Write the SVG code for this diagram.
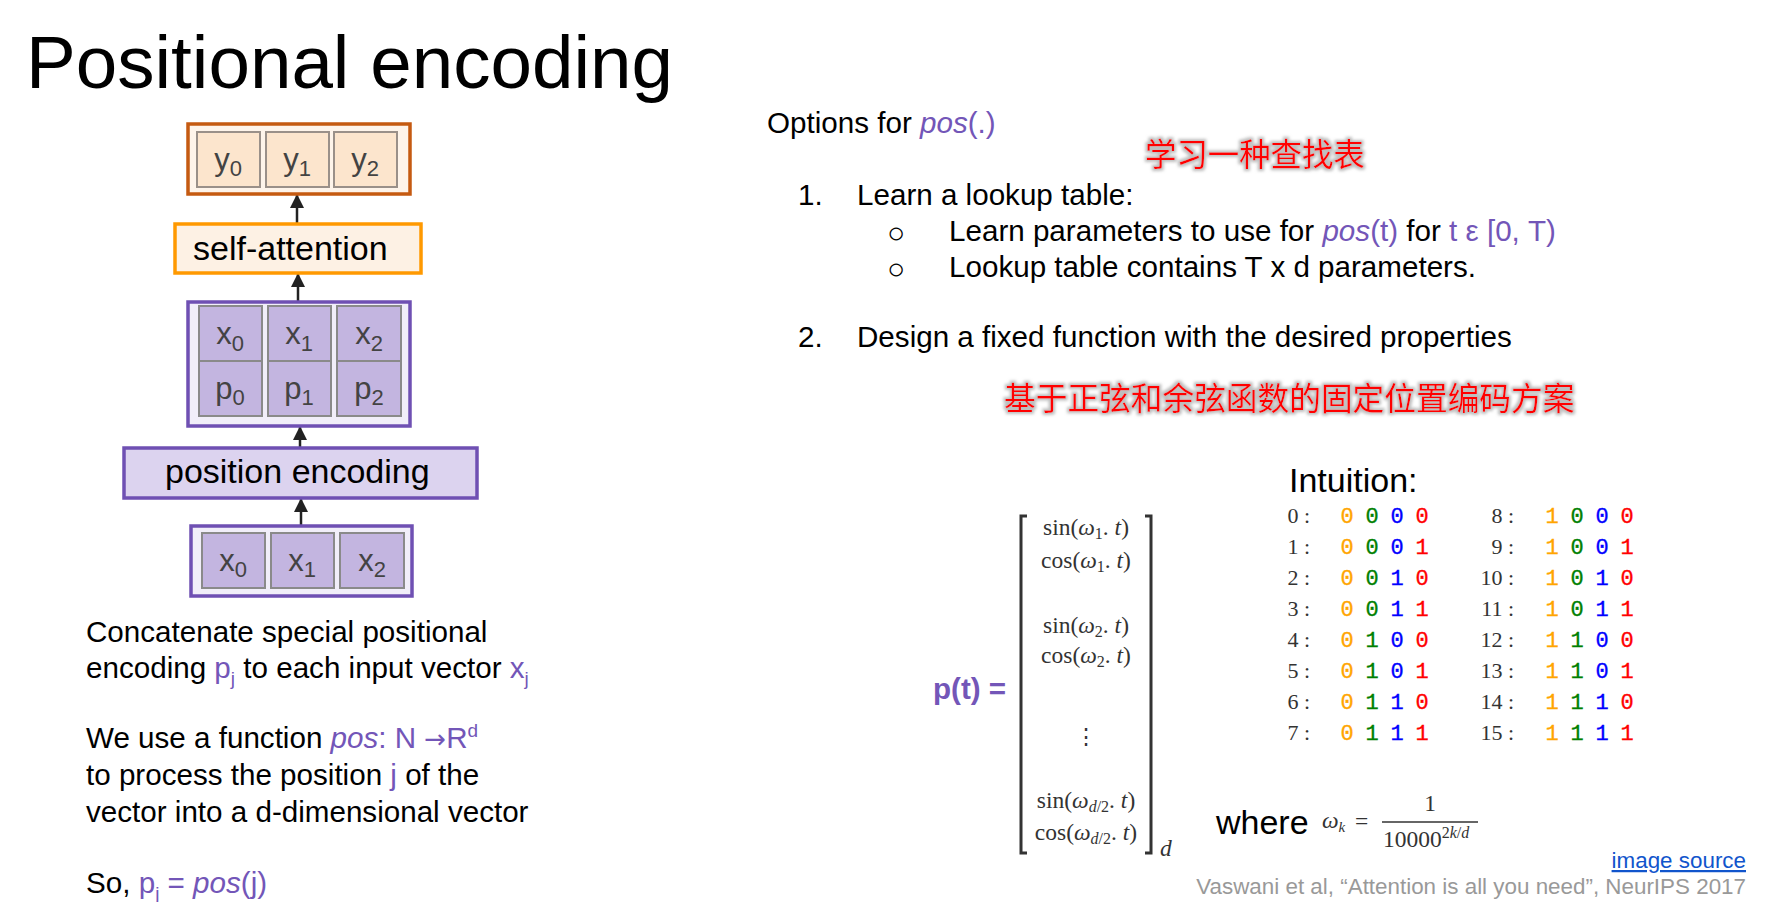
<svg xmlns="http://www.w3.org/2000/svg" width="1768" height="902" viewBox="0 0 1768 902">
<style>
.sans{font-family:"Liberation Sans",Arial,sans-serif}
.serif{font-family:"Liberation Serif","Times New Roman",serif}
.cjk{font-family:"Noto Sans CJK SC",sans-serif;fill:#ff0000}
.body{font-family:"Liberation Sans",Arial,sans-serif;font-size:29.6px;fill:#000}
.pu{fill:#7356b8}
.it{font-style:italic}
.cell{font-family:"Liberation Sans",Arial,sans-serif;font-size:31px;fill:#434343}
.ycell{fill:#fce5cd;stroke:#9a9089;stroke-width:2}
.pcell{fill:#c3b5e0;stroke:#8a8a8a;stroke-width:2}
.m{font-family:"Liberation Serif","Times New Roman",serif;font-size:23.5px;fill:#333}
.lab{font-family:"Liberation Serif","Times New Roman",serif;font-size:22px;fill:#333;text-anchor:end}
.d{font-family:"Liberation Mono","Courier New",monospace;font-size:22px;text-anchor:middle;stroke-width:0.35}
.o{fill:#ffa500;stroke:#ffa500}
.g{fill:#008000;stroke:#008000}
.b{fill:#0000ff;stroke:#0000ff}
.r{fill:#ff0000;stroke:#ff0000}
.bul{font-family:"Liberation Sans",Arial,sans-serif;font-size:30px;fill:#000}
.conn{stroke:#222;stroke-width:2.5;fill:none}
</style>
<defs>
<marker id="ah" markerUnits="userSpaceOnUse" markerWidth="14" markerHeight="14" refX="13" refY="7" orient="auto">
<path d="M0,0 L14,7 L0,14 z" fill="#222"/>
</marker>
<filter id="glow" x="-5%" y="-30%" width="110%" height="160%">
<feMorphology in="SourceAlpha" operator="dilate" radius="1.5" result="dl"/>
<feGaussianBlur in="dl" stdDeviation="1.6" result="bl"/>
<feFlood flood-color="#a8a8a8" flood-opacity="0.75"/>
<feComposite in2="bl" operator="in" result="sh"/>
<feMerge><feMergeNode in="sh"/><feMergeNode in="SourceGraphic"/></feMerge>
</filter>
</defs>
<rect width="1768" height="902" fill="#ffffff"/>

<text id="title" class="sans" x="26" y="88" font-size="74.6" fill="#000">Positional encoding</text>

<g id="connectors">
<line class="conn" x1="297" y1="223" x2="297" y2="195" marker-end="url(#ah)"/>
<line class="conn" x1="298" y1="302" x2="298" y2="274" marker-end="url(#ah)"/>
<line class="conn" x1="300" y1="447" x2="300" y2="427" marker-end="url(#ah)"/>
<line class="conn" x1="301" y1="525" x2="301" y2="499" marker-end="url(#ah)"/>
</g>

<g id="node-y">
<rect x="188" y="124" width="222" height="70" fill="#fef4ea" stroke="#c55a11" stroke-width="3.5"/>
<rect class="ycell" x="197" y="132" width="63" height="55"/>
<rect class="ycell" x="266" y="132" width="63" height="55"/>
<rect class="ycell" x="334" y="132" width="63" height="55"/>
<text class="cell" x="228" y="170" text-anchor="middle">y<tspan font-size="22" dy="6">0</tspan></text>
<text class="cell" x="297" y="170" text-anchor="middle">y<tspan font-size="22" dy="6">1</tspan></text>
<text class="cell" x="365" y="170" text-anchor="middle">y<tspan font-size="22" dy="6">2</tspan></text>
</g>

<g id="node-selfattn">
<rect x="175" y="224" width="246" height="49" fill="#fdf1e4" stroke="#ff9900" stroke-width="3.5"/>
<text class="sans" x="193" y="260" font-size="34" fill="#000">self-attention</text>
</g>

<g id="node-xp">
<rect x="188" y="302" width="222" height="124" fill="#f1eef9" stroke="#6f50b3" stroke-width="3.5"/>
<rect class="pcell" x="199" y="306" width="63" height="55"/>
<rect class="pcell" x="268" y="306" width="63" height="55"/>
<rect class="pcell" x="337" y="306" width="64" height="55"/>
<rect class="pcell" x="199" y="361" width="63" height="55"/>
<rect class="pcell" x="268" y="361" width="63" height="55"/>
<rect class="pcell" x="337" y="361" width="64" height="55"/>
<text class="cell" x="230" y="344" text-anchor="middle">x<tspan font-size="22" dy="7">0</tspan></text>
<text class="cell" x="299" y="344" text-anchor="middle">x<tspan font-size="22" dy="7">1</tspan></text>
<text class="cell" x="369" y="344" text-anchor="middle">x<tspan font-size="22" dy="7">2</tspan></text>
<text class="cell" x="230" y="399" text-anchor="middle">p<tspan font-size="22" dy="6">0</tspan></text>
<text class="cell" x="299" y="399" text-anchor="middle">p<tspan font-size="22" dy="6">1</tspan></text>
<text class="cell" x="369" y="399" text-anchor="middle">p<tspan font-size="22" dy="6">2</tspan></text>
</g>

<g id="node-posenc">
<rect x="124" y="448" width="353" height="50" fill="#dcd3ef" stroke="#6f50b3" stroke-width="3.5"/>
<text class="sans" x="165" y="483" font-size="34" fill="#000">position encoding</text>
</g>

<g id="node-x">
<rect x="191" y="526" width="221" height="70" fill="#f1eef9" stroke="#6f50b3" stroke-width="3.5"/>
<rect class="pcell" x="202" y="533" width="63" height="55"/>
<rect class="pcell" x="271" y="533" width="63" height="55"/>
<rect class="pcell" x="340" y="533" width="64" height="55"/>
<text class="cell" x="233" y="571" text-anchor="middle">x<tspan font-size="22" dy="6">0</tspan></text>
<text class="cell" x="302" y="571" text-anchor="middle">x<tspan font-size="22" dy="6">1</tspan></text>
<text class="cell" x="372" y="571" text-anchor="middle">x<tspan font-size="22" dy="6">2</tspan></text>
</g>

<g id="left-text">
<text class="body" x="86" y="642">Concatenate special positional</text>
<text class="body" x="86" y="678">encoding <tspan class="pu">p</tspan><tspan class="pu" font-size="19" dy="7">j</tspan><tspan dy="-7"> to each input vector </tspan><tspan class="pu">x</tspan><tspan class="pu" font-size="19" dy="7">j</tspan></text>
<text class="body" x="86" y="748">We use a function <tspan class="pu it">pos</tspan><tspan class="pu">: N </tspan><tspan class="pu" font-family="DejaVu Sans, sans-serif" font-size="26">→</tspan><tspan class="pu">R</tspan><tspan class="pu" font-size="19" dy="-11">d</tspan></text>
<text class="body" x="86" y="785">to process the position <tspan class="pu">j</tspan> of the</text>
<text class="body" x="86" y="822">vector into a d-dimensional vector</text>
<text class="body" x="86" y="893">So, <tspan class="pu">p</tspan><tspan class="pu" font-size="19" dy="7">j</tspan><tspan class="pu" dy="-7"> = </tspan><tspan class="pu it">pos</tspan><tspan class="pu">(j)</tspan></text>
</g>

<g id="options">
<text class="body" x="767" y="133">Options for <tspan class="pu it">pos</tspan><tspan class="pu">(.)</tspan></text>
<text class="cjk" x="1145" y="166" font-size="31.4" filter="url(#glow)">学习一种查找表</text>
<text class="body" x="798" y="205">1.</text>
<text class="body" x="857" y="205">Learn a lookup table:</text>
<text class="bul" x="887" y="243">○</text>
<text class="body" x="949" y="241">Learn parameters to use for <tspan class="pu it">pos</tspan><tspan class="pu">(t)</tspan> for <tspan class="pu">t ε [0, T)</tspan></text>
<text class="bul" x="887" y="279">○</text>
<text class="body" x="949" y="277">Lookup table contains T x d parameters.</text>
<text class="body" x="798" y="347">2.</text>
<text class="body" x="857" y="347">Design a fixed function with the desired properties</text>
<text class="cjk" x="1004" y="410" font-size="31.7" filter="url(#glow)">基于正弦和余弦函数的固定位置编码方案</text>
</g>

<g id="formula">
<text class="sans" x="933" y="699" font-size="29.6" font-weight="bold" fill="#7356b8">p(t) =</text>
<path d="M1027,516 L1021,516 L1021,853 L1027,853" fill="none" stroke="#333" stroke-width="3"/>
<path d="M1145,516 L1151,516 L1151,853 L1145,853" fill="none" stroke="#333" stroke-width="3"/>
<text class="m it" x="1160" y="856" font-size="16">d</text>
<text class="m" x="1086" y="535" text-anchor="middle">sin(<tspan class="it">ω</tspan><tspan font-size="16" dy="4">1</tspan><tspan dy="-4">. </tspan><tspan class="it">t</tspan>)</text>
<text class="m" x="1086" y="568" text-anchor="middle">cos(<tspan class="it">ω</tspan><tspan font-size="16" dy="4">1</tspan><tspan dy="-4">. </tspan><tspan class="it">t</tspan>)</text>
<text class="m" x="1086" y="633" text-anchor="middle">sin(<tspan class="it">ω</tspan><tspan font-size="16" dy="4">2</tspan><tspan dy="-4">. </tspan><tspan class="it">t</tspan>)</text>
<text class="m" x="1086" y="663" text-anchor="middle">cos(<tspan class="it">ω</tspan><tspan font-size="16" dy="4">2</tspan><tspan dy="-4">. </tspan><tspan class="it">t</tspan>)</text>
<text x="1086" y="744" text-anchor="middle" font-family="DejaVu Serif, serif" font-size="22" fill="#333">⋮</text>
<text class="m" x="1086" y="808" text-anchor="middle">sin(<tspan class="it">ω</tspan><tspan font-size="16" dy="4"><tspan class="it">d</tspan>/2</tspan><tspan dy="-4">. </tspan><tspan class="it">t</tspan>)</text>
<text class="m" x="1086" y="840" text-anchor="middle">cos(<tspan class="it">ω</tspan><tspan font-size="16" dy="4"><tspan class="it">d</tspan>/2</tspan><tspan dy="-4">. </tspan><tspan class="it">t</tspan>)</text>
</g>

<g id="intuition">
<text class="sans" x="1289" y="492" font-size="34" fill="#000">Intuition:</text>
<text class="lab" x="1310" y="523">0 :</text>
<text class="lab" x="1310" y="554">1 :</text>
<text class="lab" x="1310" y="585">2 :</text>
<text class="lab" x="1310" y="616">3 :</text>
<text class="lab" x="1310" y="647">4 :</text>
<text class="lab" x="1310" y="678">5 :</text>
<text class="lab" x="1310" y="709">6 :</text>
<text class="lab" x="1310" y="740">7 :</text>
<text class="lab" x="1514" y="523">8 :</text>
<text class="lab" x="1514" y="554">9 :</text>
<text class="lab" x="1514" y="585">10 :</text>
<text class="lab" x="1514" y="616">11 :</text>
<text class="lab" x="1514" y="647">12 :</text>
<text class="lab" x="1514" y="678">13 :</text>
<text class="lab" x="1514" y="709">14 :</text>
<text class="lab" x="1514" y="740">15 :</text>
<g id="bits-left">
<text class="d o" x="1347" y="523">0</text><text class="d g" x="1372" y="523">0</text><text class="d b" x="1397" y="523">0</text><text class="d r" x="1422" y="523">0</text>
<text class="d o" x="1347" y="554">0</text><text class="d g" x="1372" y="554">0</text><text class="d b" x="1397" y="554">0</text><text class="d r" x="1422" y="554">1</text>
<text class="d o" x="1347" y="585">0</text><text class="d g" x="1372" y="585">0</text><text class="d b" x="1397" y="585">1</text><text class="d r" x="1422" y="585">0</text>
<text class="d o" x="1347" y="616">0</text><text class="d g" x="1372" y="616">0</text><text class="d b" x="1397" y="616">1</text><text class="d r" x="1422" y="616">1</text>
<text class="d o" x="1347" y="647">0</text><text class="d g" x="1372" y="647">1</text><text class="d b" x="1397" y="647">0</text><text class="d r" x="1422" y="647">0</text>
<text class="d o" x="1347" y="678">0</text><text class="d g" x="1372" y="678">1</text><text class="d b" x="1397" y="678">0</text><text class="d r" x="1422" y="678">1</text>
<text class="d o" x="1347" y="709">0</text><text class="d g" x="1372" y="709">1</text><text class="d b" x="1397" y="709">1</text><text class="d r" x="1422" y="709">0</text>
<text class="d o" x="1347" y="740">0</text><text class="d g" x="1372" y="740">1</text><text class="d b" x="1397" y="740">1</text><text class="d r" x="1422" y="740">1</text>
</g>
<g id="bits-right">
<text class="d o" x="1552" y="523">1</text><text class="d g" x="1577" y="523">0</text><text class="d b" x="1602" y="523">0</text><text class="d r" x="1627" y="523">0</text>
<text class="d o" x="1552" y="554">1</text><text class="d g" x="1577" y="554">0</text><text class="d b" x="1602" y="554">0</text><text class="d r" x="1627" y="554">1</text>
<text class="d o" x="1552" y="585">1</text><text class="d g" x="1577" y="585">0</text><text class="d b" x="1602" y="585">1</text><text class="d r" x="1627" y="585">0</text>
<text class="d o" x="1552" y="616">1</text><text class="d g" x="1577" y="616">0</text><text class="d b" x="1602" y="616">1</text><text class="d r" x="1627" y="616">1</text>
<text class="d o" x="1552" y="647">1</text><text class="d g" x="1577" y="647">1</text><text class="d b" x="1602" y="647">0</text><text class="d r" x="1627" y="647">0</text>
<text class="d o" x="1552" y="678">1</text><text class="d g" x="1577" y="678">1</text><text class="d b" x="1602" y="678">0</text><text class="d r" x="1627" y="678">1</text>
<text class="d o" x="1552" y="709">1</text><text class="d g" x="1577" y="709">1</text><text class="d b" x="1602" y="709">1</text><text class="d r" x="1627" y="709">0</text>
<text class="d o" x="1552" y="740">1</text><text class="d g" x="1577" y="740">1</text><text class="d b" x="1602" y="740">1</text><text class="d r" x="1627" y="740">1</text>
</g>
</g>

<g id="where">
<text class="sans" x="1216" y="834" font-size="34" fill="#000">where</text>
<text class="m" x="1322" y="828" font-size="23"><tspan class="it">ω</tspan><tspan class="it" font-size="15" dy="4">k</tspan></text>
<text class="m" x="1355" y="829" font-size="23">=</text>
<line x1="1382" y1="822" x2="1478" y2="822" stroke="#333" stroke-width="1.3"/>
<text class="m" x="1430" y="811" font-size="23" text-anchor="middle">1</text>
<text class="m" x="1383" y="847" font-size="23">10000<tspan font-size="16" dy="-9"><tspan>2</tspan><tspan class="it">k</tspan>/<tspan class="it">d</tspan></tspan></text>
</g>

<g id="source">
<text class="sans" x="1746" y="868" font-size="22.4" fill="#1155cc" text-anchor="end" text-decoration="underline">image source</text>
<text class="sans" x="1746" y="894" font-size="22.4" fill="#999999" text-anchor="end">Vaswani et al, “Attention is all you need”, NeurIPS 2017</text>
</g>
</svg>
